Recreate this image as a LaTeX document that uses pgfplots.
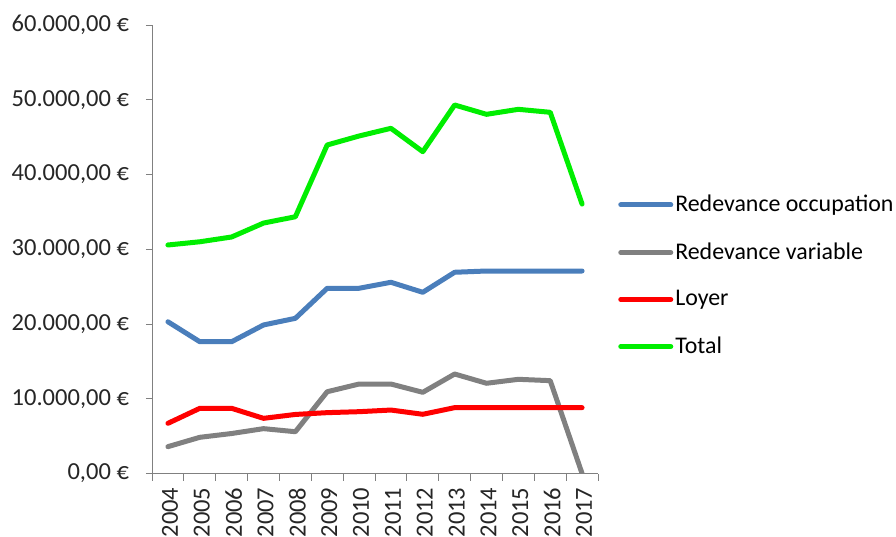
\documentclass[border=0pt]{standalone}
\usepackage{fontspec}
\setmainfont{Carlito}
\usepackage{pgfplots}
\pgfplotsset{compat=1.18}
\definecolor{cblue}{HTML}{4A7EBB}
\definecolor{cgray}{HTML}{808080}
\definecolor{cred}{HTML}{FF0000}
\definecolor{cgreen}{HTML}{00EE00}
\begin{document}
\fontsize{23.7bp}{28bp}\selectfont
\begin{tikzpicture}
\useasboundingbox (0,0) rectangle (896bp,537bp);
\begin{axis}[
  at={(152bp,63.5bp)}, anchor=south west,
  scale only axis, width=446bp, height=448.5bp,
  xmin=-0.5, xmax=13.5, ymin=0, ymax=60000,
  scaled y ticks=false,
  axis x line*=bottom, axis y line*=left,
  axis line style={draw=black!50, line width=0.9bp},
  every tick/.style={draw=black!50, line width=0.9bp},
  tick align=outside,
  xtick={0,...,13},
  xticklabels={2004,2005,2006,2007,2008,2009,2010,2011,2012,2013,2014,2015,2016,2017},
  major x tick style={draw=none},
  minor xtick={-0.5,0.5,...,13.5},
  minor tick length=7bp,
  major tick length=6bp,
  ytick={0,10000,20000,30000,40000,50000,60000},
  yticklabels={{0,00 €},{10.000,00 €},{20.000,00 €},{30.000,00 €},{40.000,00 €},{50.000,00 €},{60.000,00 €}},
  xticklabel style={rotate=90, anchor=east, text=black!85, font=\fontsize{24.5bp}{28bp}\selectfont, yshift=-2bp},
  yticklabel style={text=black!85, font=\fontsize{24.5bp}{28bp}\selectfont, xshift=-9bp},
  legend style={at={(1.045,0.441)}, anchor=west, draw=none, fill=none,
    font=\fontsize{23.9bp}{28bp}\selectfont, row sep=23.5bp, inner sep=0pt},
  legend cell align=left,
  legend image code/.code={\draw[#1] (0bp,0bp) -- (50bp,0bp);},
  every axis plot/.append style={line width=5bp, line join=round, line cap=round},
]
\addplot[cblue] coordinates {(0,20300)(1,17630)(2,17630)(3,19870)(4,20760)(5,24780)(6,24780)(7,25580)(8,24240)(9,26920)(10,27090)(11,27090)(12,27090)(13,27090)};
\addlegendentry{Redevance occupation}
\addplot[cgray] coordinates {(0,3590)(1,4840)(2,5350)(3,6000)(4,5590)(5,10940)(6,11970)(7,11970)(8,10860)(9,13310)(10,12070)(11,12600)(12,12420)(13,0)};
\addlegendentry{Redevance variable}
\addplot[cred] coordinates {(0,6710)(1,8720)(2,8720)(3,7380)(4,7900)(5,8140)(6,8270)(7,8490)(8,7920)(9,8810)(10,8810)(11,8810)(12,8810)(13,8810)};
\addlegendentry{Loyer}
\addplot[cgreen] coordinates {(0,30570)(1,31000)(2,31640)(3,33500)(4,34350)(5,43950)(6,45150)(7,46180)(8,43050)(9,49300)(10,48050)(11,48720)(12,48320)(13,36050)};
\addlegendentry{Total}
\end{axis}
\end{tikzpicture}
\end{document}
